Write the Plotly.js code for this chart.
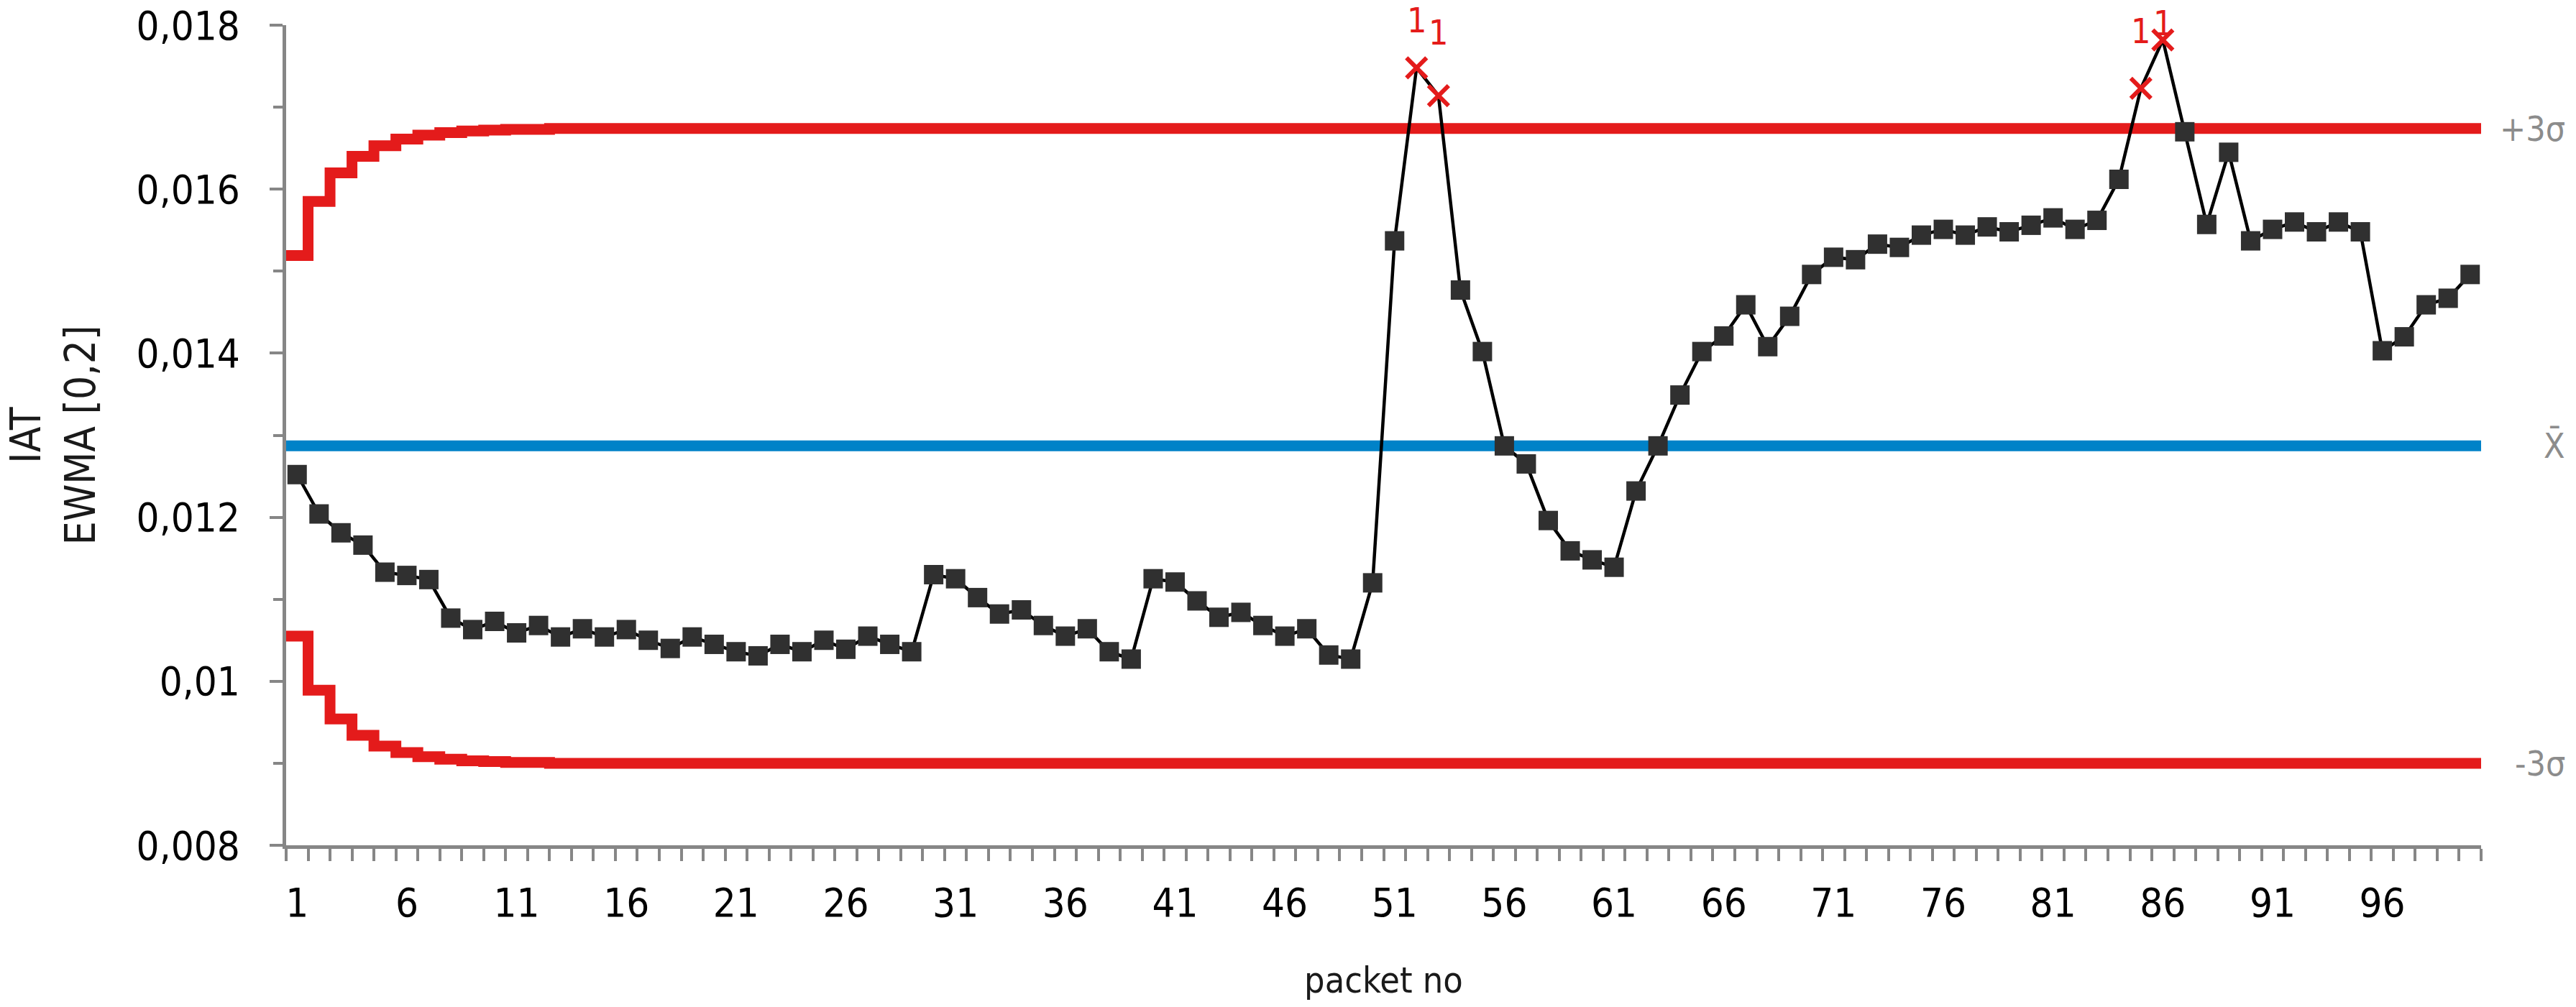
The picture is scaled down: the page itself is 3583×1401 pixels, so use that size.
<!DOCTYPE html>
<html>
<head>
<meta charset="utf-8">
<script src="https://cdn.plot.ly/plotly-3.0.1.min.js"></script>
<style>
html,body{margin:0;padding:0;background:#ffffff;}
#chart{width:3583px;height:1401px;}
</style>
</head>
<body>
<div id="chart"></div>
<script>
// ---- data ----
const packets = [1,2,3,4,5,6,7,8,9,10,11,12,13,14,15,16,17,18,19,20,21,22,23,24,25,26,27,28,29,30,31,32,33,34,35,36,37,38,39,40,41,42,43,44,45,46,47,48,49,50,51,52,53,54,55,56,57,58,59,60,61,62,63,64,65,66,67,68,69,70,71,72,73,74,75,76,77,78,79,80,81,82,83,84,85,86,87,88,89,90,91,92,93,94,95,96,97,98,99,100];

const ewma = [0.01252,0.01204,0.01181,0.01166,0.01133,0.01129,0.01124,0.01077,0.01063,0.01073,
              0.01059,0.01068,0.01054,0.01064,0.01054,0.01063,0.01050,0.01040,0.01054,0.01045,
              0.01036,0.01031,0.01045,0.01036,0.01050,0.01039,0.01055,0.01045,0.01036,0.01130,
              0.01125,0.01102,0.01082,0.01087,0.01068,0.01055,0.01064,0.01036,0.01027,0.01125,
              0.01121,0.01098,0.01078,0.01084,0.01068,0.01055,0.01064,0.01032,0.01027,0.01120,
              0.01537,0.01748,0.01714,0.01477,0.01402,0.01287,0.01265,0.01196,0.01159,0.01148,
              0.01139,0.01232,0.01287,0.01349,0.01402,0.01421,0.01459,0.01408,0.01445,0.01496,
              0.01517,0.01514,0.01533,0.01529,0.01544,0.01551,0.01544,0.01554,0.01548,0.01556,
              0.01565,0.01551,0.01562,0.01612,0.01723,0.01782,0.01670,0.01557,0.01645,0.01537,
              0.01551,0.01560,0.01548,0.01560,0.01548,0.01403,0.01420,0.01459,0.01467,0.01496];

const ucl = [0.01519,0.01585,0.01620,0.01640,0.01653,0.01661,0.01666,0.01669,0.01671,0.01672,
             0.01673,0.01673,0.01674,0.01674,0.01674,0.01674,0.01674,0.01674,0.01674,0.01674,
             0.01674,0.01674,0.01674,0.01674,0.01674,0.01674,0.01674,0.01674,0.01674,0.01674,
             0.01674,0.01674,0.01674,0.01674,0.01674,0.01674,0.01674,0.01674,0.01674,0.01674,
             0.01674,0.01674,0.01674,0.01674,0.01674,0.01674,0.01674,0.01674,0.01674,0.01674,
             0.01674,0.01674,0.01674,0.01674,0.01674,0.01674,0.01674,0.01674,0.01674,0.01674,
             0.01674,0.01674,0.01674,0.01674,0.01674,0.01674,0.01674,0.01674,0.01674,0.01674,
             0.01674,0.01674,0.01674,0.01674,0.01674,0.01674,0.01674,0.01674,0.01674,0.01674,
             0.01674,0.01674,0.01674,0.01674,0.01674,0.01674,0.01674,0.01674,0.01674,0.01674,
             0.01674,0.01674,0.01674,0.01674,0.01674,0.01674,0.01674,0.01674,0.01674,0.01674];

const lcl = [0.01055,0.00989,0.00954,0.00934,0.00921,0.00913,0.00908,0.00905,0.00903,0.00902,
             0.00901,0.00901,0.00900,0.00900,0.00900,0.00900,0.00900,0.00900,0.00900,0.00900,
             0.00900,0.00900,0.00900,0.00900,0.00900,0.00900,0.00900,0.00900,0.00900,0.00900,
             0.00900,0.00900,0.00900,0.00900,0.00900,0.00900,0.00900,0.00900,0.00900,0.00900,
             0.00900,0.00900,0.00900,0.00900,0.00900,0.00900,0.00900,0.00900,0.00900,0.00900,
             0.00900,0.00900,0.00900,0.00900,0.00900,0.00900,0.00900,0.00900,0.00900,0.00900,
             0.00900,0.00900,0.00900,0.00900,0.00900,0.00900,0.00900,0.00900,0.00900,0.00900,
             0.00900,0.00900,0.00900,0.00900,0.00900,0.00900,0.00900,0.00900,0.00900,0.00900,
             0.00900,0.00900,0.00900,0.00900,0.00900,0.00900,0.00900,0.00900,0.00900,0.00900,
             0.00900,0.00900,0.00900,0.00900,0.00900,0.00900,0.00900,0.00900,0.00900,0.00900];

const centerLine = 0.01287;

const flaggedPackets = [52, 53, 85, 86];
const flagLabels = ['1', '1', '1', '1'];

const xTickVals = [1,6,11,16,21,26,31,36,41,46,51,56,61,66,71,76,81,86,91,96];
const xTickText = ['1','6','11','16','21','26','31','36','41','46','51','56','61','66','71','76','81','86','91','96'];
const yTickVals = [0.008,0.010,0.012,0.014,0.016,0.018];
const yTickText = ['0,008','0,01','0,012','0,014','0,016','0,018'];
const yMinorVals = [0.009,0.011,0.013,0.015,0.017];

const limitLabels = ['+3σ', 'X\u0304', '-3σ'];
const xTitle = 'packet no';
const yTitle = 'IAT<br>EWMA [0,2]';

// ---- styles ----
const FONT = 'DejaVu Sans Condensed, DejaVu Sans, Liberation Sans, sans-serif';
const RED = '#E41B1B';
const BLUE = '#0082C8';
const AXIS = '#868686';
const flagLabelShift = [66, 88, 80, 24];

// ---- derived drawing arrays ----
const lastP = packets[packets.length - 1];
const stepX = packets.map(p => p - 0.5).concat([lastP + 0.5]);
const stepUcl = ucl.concat([ucl[ucl.length - 1]]);
const stepLcl = lcl.concat([lcl[lcl.length - 1]]);
const centerX = [packets[0] - 0.5, lastP + 0.5];
const centerY = [centerLine, centerLine];
const xMinorVals = stepX;

const isFlag = packets.map(p => flaggedPackets.includes(p));

const traces = [
  {x: stepX, y: stepUcl, type: 'scatter', mode: 'lines', line: {color: RED, width: 15, shape: 'hv'}, hoverinfo: 'skip'},
  {x: stepX, y: stepLcl, type: 'scatter', mode: 'lines', line: {color: RED, width: 15, shape: 'hv'}, hoverinfo: 'skip'},
  {x: centerX, y: centerY, type: 'scatter', mode: 'lines', line: {color: BLUE, width: 15}, hoverinfo: 'skip'},
  {
    x: packets, y: ewma, type: 'scatter', mode: 'lines+markers',
    line: {color: '#000000', width: 4.5},
    marker: {
      symbol: isFlag.map(f => f ? 'x-thin-open' : 'square'),
      size: isFlag.map(f => f ? 28 : 27),
      color: isFlag.map(f => f ? RED : '#303030'),
      opacity: 1,
      line: {color: isFlag.map(f => f ? RED : '#303030'), width: isFlag.map(f => f ? 6 : 0)}
    },
    cliponaxis: false
  }
];

const annotations = [];
flaggedPackets.forEach((p, k) => {
  const idx = packets.indexOf(p);
  annotations.push({
    x: p, y: ewma[idx], xref: 'x', yref: 'y', text: flagLabels[k], showarrow: false,
    xanchor: 'center', yanchor: 'middle', yshift: flagLabelShift[k],
    font: {family: FONT, size: 48, color: RED}
  });
});
const limitY = [ucl[ucl.length - 1], centerLine, lcl[lcl.length - 1]];
limitLabels.forEach((t, k) => {
  annotations.push({
    x: 1.039, y: limitY[k], xref: 'paper', yref: 'y', text: t, showarrow: false,
    xanchor: 'right', yanchor: 'middle',
    font: {family: FONT, size: 48, color: '#8c8c8c'}
  });
});

const layout = {
  width: 3583, height: 1401,
  margin: {l: 398, r: 132, t: 35, b: 225, pad: 0},
  paper_bgcolor: '#ffffff', plot_bgcolor: '#ffffff',
  showlegend: false,
  font: {family: FONT, color: '#000000'},
  xaxis: {
    range: [0.5, 100.5], autorange: false,
    showgrid: false, zeroline: false,
    showline: true, linecolor: AXIS, linewidth: 5,
    tickmode: 'array', tickvals: xTickVals, ticktext: xTickText,
    ticks: 'outside', ticklen: 17, tickwidth: 4, tickcolor: 'rgba(0,0,0,0)',
    ticklabelstandoff: 10,
    tickfont: {family: FONT, size: 56, color: '#000000'},
    minor: {tickmode: 'array', tickvals: xMinorVals, ticks: 'outside', ticklen: 17, tickwidth: 4, tickcolor: AXIS, showgrid: false},
    title: {text: xTitle, font: {family: FONT, size: 50, color: '#1a1a1a'}, standoff: 60},
    automargin: false
  },
  yaxis: {
    range: [0.008, 0.018], autorange: false,
    showgrid: false, zeroline: false,
    showline: true, linecolor: AXIS, linewidth: 5,
    tickmode: 'array', tickvals: yTickVals, ticktext: yTickText,
    ticks: 'outside', ticklen: 18, tickwidth: 4, tickcolor: AXIS,
    ticklabelstandoff: 30,
    tickfont: {family: FONT, size: 56, color: '#000000'},
    minor: {tickmode: 'array', tickvals: yMinorVals, ticks: 'outside', ticklen: 13, tickwidth: 4, tickcolor: AXIS, showgrid: false},
    title: {text: yTitle, font: {family: FONT, size: 58, color: '#1a1a1a'}, standoff: 40},
    automargin: false
  },
  annotations: annotations
};

Plotly.newPlot('chart', traces, layout, {staticPlot: true, displayModeBar: false});
</script>
</body>
</html>
